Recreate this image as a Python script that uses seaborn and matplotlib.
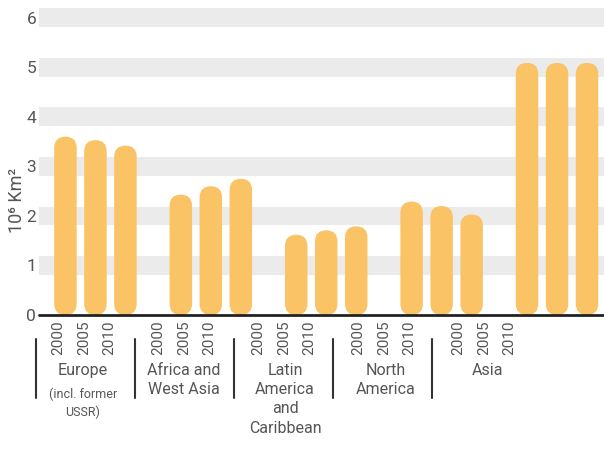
import matplotlib
matplotlib.use("Agg")
import numpy as np
import pandas as pd
import seaborn as sns
from matplotlib import pyplot as plt
from matplotlib.patches import FancyBboxPatch


REGIONS = ["Europe", "Africa and West Asia", "Latin America and Caribbean", "North America", "Asia"]
REGION_LABELS = ["Europe", "Africa and\nWest Asia", "Latin\nAmerica\nand\nCaribbean", "North\nAmerica", "Asia"]
YEARS = ["2000", "2005", "2010"]
VALUES_2000 = [3.60, 2.43, 1.62, 2.29, 5.09]
VALUES_2005 = [3.53, 2.60, 1.71, 2.20, 5.09]
VALUES_2010 = [3.42, 2.75, 1.79, 2.03, 5.09]
Y_TICKS = [0, 1, 2, 3, 4, 5, 6]

BAR_COLOR = "#F9C366"
BAND_COLOR = "#EBEBEB"
TEXT_COLOR = "#555555"

rows = []
for year, vals in zip(YEARS, [VALUES_2000, VALUES_2005, VALUES_2010]):
    for region, v in zip(REGIONS, vals):
        rows.append({"region": region, "year": year, "value": v})
df = pd.DataFrame(rows)

sns.set_style("white")
plt.rcParams['font.family'] = ['Roboto', 'DejaVu Sans']

fig = plt.figure(figsize=(6.04, 4.5), dpi=100)
ax = fig.add_axes([39 / 604, 1 - 315 / 450, 1 - 39 / 604, 315 / 450])

sns.barplot(data=df, x="region", y="value", hue="year", order=REGIONS, hue_order=YEARS,
            palette=[BAR_COLOR] * 3, width=0.78, gap=0.25, legend=False, ax=ax,
            errorbar=None, saturation=1)

ax.set_xlim(-0.489, 4.407)
ax.set_ylim(0, 6.36)

# swap the bars for rounded ones
px_x = ax.transData.transform((1, 0))[0] - ax.transData.transform((0, 0))[0]
px_y = ax.transData.transform((0, 1))[1] - ax.transData.transform((0, 0))[1]
for p in list(ax.patches):
    x, y, w, h = p.get_x(), p.get_y(), p.get_width(), p.get_height()
    p.remove()
    rb = FancyBboxPatch((x, y), w, h, boxstyle=f"round,pad=0,rounding_size={w / 2}",
                        mutation_aspect=px_x / px_y, facecolor=BAR_COLOR, edgecolor="none", zorder=2)
    ax.add_patch(rb)

# grey bands around each integer
for t in Y_TICKS[1:]:
    ax.axhspan(t - 0.19, t + 0.19, color=BAND_COLOR, zorder=0, lw=0)

# baseline
ax.axhline(0, color="#222222", lw=2, zorder=3, clip_on=False)

for s in ax.spines.values():
    s.set_visible(False)

ax.set_yticks(Y_TICKS)
ax.set_yticklabels([str(t) for t in Y_TICKS])
ax.tick_params(axis="y", length=0, pad=2, labelsize=12.5, labelcolor=TEXT_COLOR)

# year tick labels (sit on a slightly tighter spacing than the bars)
def px_to_x(px):
    return -0.489 + (px - 39) / px_x

tick_pos, tick_lab = [], []
for i in range(len(REGIONS)):
    for j, yr in enumerate(YEARS):
        tick_pos.append(px_to_x(84 + 100 * i + 25.5 * (j - 1)))
        tick_lab.append(yr)
ax.set_xticks(tick_pos)
ax.set_xticklabels(tick_lab, rotation=90)
ax.tick_params(axis="x", length=0, pad=4, labelsize=11, labelcolor=TEXT_COLOR)
ax.set_xlabel("")

trans = ax.get_xaxis_transform()
for i, lab in enumerate(REGION_LABELS):
    sx = px_to_x(36 + 99 * i)
    ax.plot([sx, sx], [-24 / 315, -83 / 315], color="#333333", lw=1.5,
            transform=trans, clip_on=False)
    cx = px_to_x(83 + 101 * i)
    ax.text(cx, -48 / 315, lab, transform=trans, ha="center", va="top",
            fontsize=11.5, color=TEXT_COLOR, linespacing=1.35)
ax.text(px_to_x(83), -73 / 315, "(incl. former\nUSSR)", transform=trans, ha="center", va="top",
        fontsize=9, color=TEXT_COLOR, linespacing=1.45)

ax.set_ylabel("10⁶ Km²", fontsize=13, color=TEXT_COLOR)
ax.yaxis.label.set_va("center")
ax.yaxis.set_label_coords(-(39 - 16.5) / 565, (315 - 200) / 315)

plt.savefig("out.png", dpi=100)
